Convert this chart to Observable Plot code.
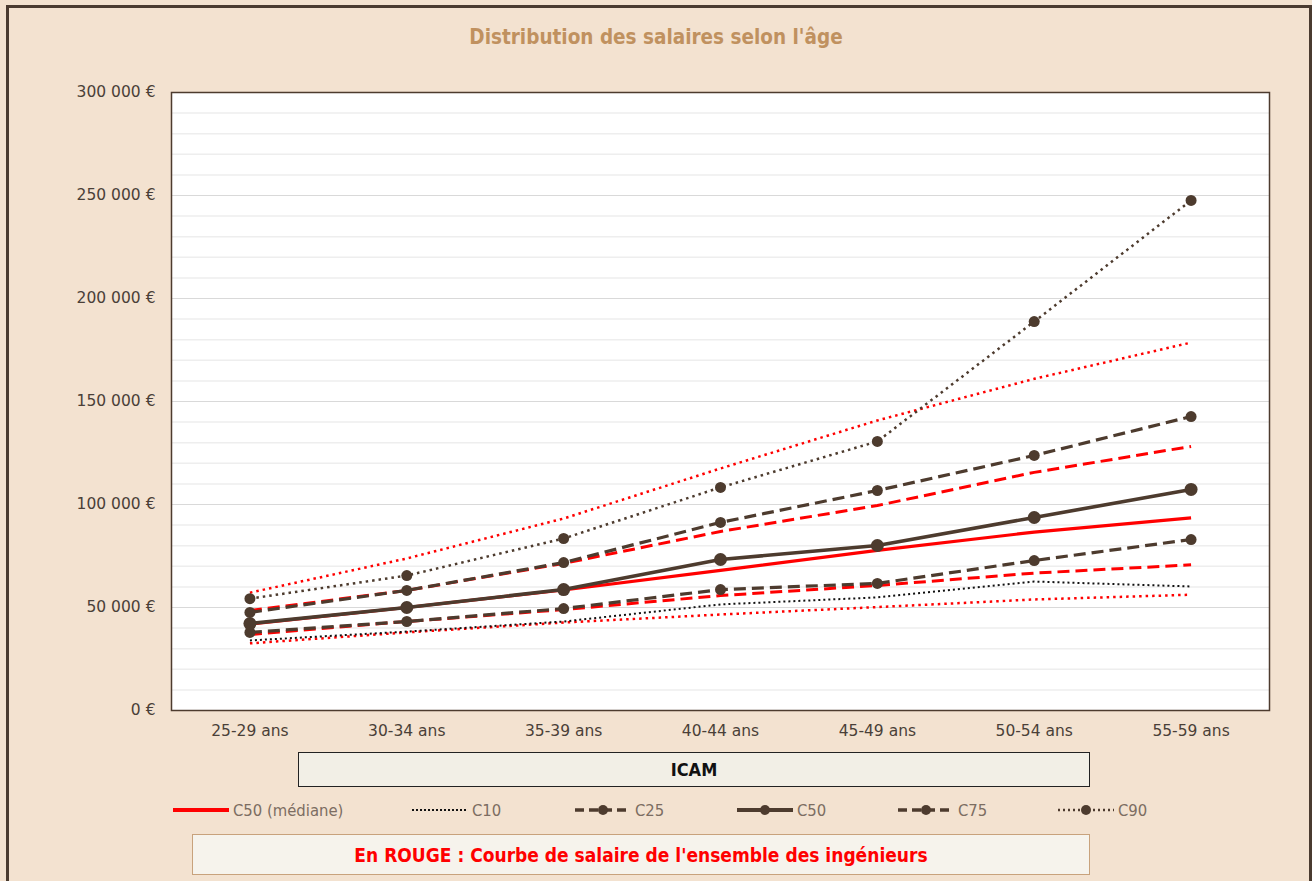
<!DOCTYPE html>
<html><head><meta charset="utf-8">
<script src="https://cdn.jsdelivr.net/npm/d3@7"></script>
<script src="https://cdn.jsdelivr.net/npm/@observablehq/plot@0.6"></script>
<style>
html,body{margin:0;padding:0;width:1312px;height:881px;overflow:hidden;background:#f3e2d0;}
#frame{position:absolute;left:6px;top:5px;width:1300px;height:900px;border:3px solid #4a3b30;background:#f3e2d0;}
#title{position:absolute;left:0;width:1312px;top:25px;text-align:center;font-family:"DejaVu Sans Condensed","Liberation Sans Narrow",sans-serif;font-weight:bold;font-size:20.5px;color:#c0915f;}
#chart{position:absolute;left:0;top:0;}
#icam{position:absolute;left:298px;top:752px;width:790px;height:33px;background:#f2efe6;border:1.5px solid #222;text-align:center;line-height:34px;font-family:"DejaVu Sans Condensed",sans-serif;font-weight:bold;font-size:18px;color:#111;}
#legend{position:absolute;left:0;top:798px;width:1312px;height:24px;font-family:"DejaVu Sans Condensed",sans-serif;font-size:16.5px;color:#7c6d62;}
.li{position:absolute;top:0;height:24px;display:flex;align-items:center;}
.li svg{margin-right:4px;}
#note{position:absolute;left:192px;top:834px;width:896px;height:39px;background:#f6f3ec;border:1.5px solid #c8a27c;text-align:center;line-height:41px;font-family:"DejaVu Sans Condensed",sans-serif;font-weight:bold;font-size:19px;color:#ff0000;}
</style></head>
<body>
<div id="frame"></div>
<div id="chart"></div>
<div id="title">Distribution des salaires selon l'âge</div>
<div id="icam">ICAM</div>
<div id="legend"></div>
<div id="note">En ROUGE : Courbe de salaire de l'ensemble des ingénieurs</div>
<script>
const ages = ["25-29 ans","30-34 ans","35-39 ans","40-44 ans","45-49 ans","50-54 ans","55-59 ans"];
// ICAM (brown / black)
const icamC10 = [34000, 38300, 43200, 51500, 54900, 62600, 60200];
const icamC25 = [37900, 43200, 49500, 58700, 61700, 72800, 83000];
const icamC50 = [42200, 50000, 58700, 73300, 80100, 93700, 107300];
const icamC75 = [47600, 58300, 71800, 91300, 106800, 123800, 142700];
const icamC90 = [54300, 65500, 83500, 108300, 130600, 188800, 247600];
// Ensemble des ingénieurs (red)
const allC10 = [32600, 37900, 42700, 46600, 50200, 53900, 56200];
const allC25 = [36900, 43200, 49000, 55800, 60700, 66700, 70700];
const allC50 = [42000, 50000, 58500, 68000, 77700, 86600, 93500];
const allC75 = [48500, 58300, 71400, 86900, 99500, 115600, 128200];
const allC90 = [57200, 73800, 93200, 117500, 140800, 161000, 178600];
const yTicks = [0, 50000, 100000, 150000, 200000, 250000, 300000];

const tidy = arr => arr.map((v,i)=>({age:ages[i], v}));
const BROWN = "#4d3b2e", RED = "#ff0000";
const fmt = d => d3.format(",")(d).replace(/,/g," ") + " €";
const minor = d3.range(0, 300001, 10000).filter(d => d % 50000 !== 0);

const lineOpts = (stroke, w, dash) => ({x:"age", y:"v", stroke, strokeWidth:w, strokeDasharray:dash, strokeLinecap:"butt"});

const plot = Plot.plot({
  width: 1312, height: 750,
  marginLeft: 171, marginRight: 43, marginTop: 92, marginBottom: 40,
  style: {background:"transparent", fontFamily:"'DejaVu Sans', sans-serif", fontSize:"15.5px", color:"#4a3f38"},
  x: {type:"point", domain: ages, padding: 0.5, round: false, label: null, tickSize: 0, tickPadding: 14},
  y: {domain:[0,300000], ticks: yTicks, tickFormat: fmt, label: null, tickSize: 0, tickPadding: 16},
  marks: [
    Plot.frame({fill:"white"}),
    Plot.ruleY(minor, {stroke:"#eeeeee", strokeWidth:1.5}),
    Plot.ruleY(yTicks, {stroke:"#d9d9d9", strokeWidth:1.2}),
    // red (ensemble)
    Plot.line(tidy(allC10), lineOpts(RED, 2.5, "2.5,4")),
    Plot.line(tidy(allC25), lineOpts(RED, 3, "12,6")),
    Plot.line(tidy(allC50), lineOpts(RED, 3.2, null)),
    Plot.line(tidy(allC75), lineOpts(RED, 3, "12,6")),
    Plot.line(tidy(allC90), lineOpts(RED, 2.5, "2.5,4")),
    // ICAM
    Plot.line(tidy(icamC10), lineOpts("#111111", 2, "2,3")),
    Plot.line(tidy(icamC25), lineOpts(BROWN, 3.2, "12,6")),
    Plot.dot(tidy(icamC25), {x:"age", y:"v", r:5.5, fill:BROWN}),
    Plot.line(tidy(icamC75), lineOpts(BROWN, 3.2, "12,6")),
    Plot.dot(tidy(icamC75), {x:"age", y:"v", r:5.5, fill:BROWN}),
    Plot.line(tidy(icamC90), lineOpts(BROWN, 2.5, "2.5,4")),
    Plot.dot(tidy(icamC90), {x:"age", y:"v", r:5.5, fill:BROWN}),
    Plot.line(tidy(icamC50), lineOpts(BROWN, 3.6, null)),
    Plot.dot(tidy(icamC50), {x:"age", y:"v", r:6.5, fill:BROWN}),
    Plot.frame({stroke:"#4d3b2e", strokeWidth:1.5})
  ]
});
document.getElementById("chart").appendChild(plot);

// Legend
const legendItems = [
  {x:173, label:"C50 (médiane)", stroke:RED, w:4, dash:null, dot:false},
  {x:412, label:"C10", stroke:"#111", w:2, dash:"2,2", dot:false},
  {x:575, label:"C25", stroke:BROWN, w:3.5, dash:"9,5", dot:true},
  {x:737, label:"C50", stroke:BROWN, w:4, dash:null, dot:true},
  {x:898, label:"C75", stroke:BROWN, w:3.5, dash:"9,5", dot:true},
  {x:1058, label:"C90", stroke:BROWN, w:2.5, dash:"2,3", dot:true}
];
const leg = document.getElementById("legend");
legendItems.forEach(it=>{
  const d = document.createElement("div");
  d.className = "li"; d.style.left = it.x + "px";
  d.innerHTML = `<svg width="56" height="24"><line x1="0" x2="56" y1="12" y2="12" stroke="${it.stroke}" stroke-width="${it.w}" ${it.dash?`stroke-dasharray="${it.dash}"`:""}/>${it.dot?`<circle cx="28" cy="12" r="5" fill="${BROWN}"/>`:""}</svg><span>${it.label}</span>`;
  leg.appendChild(d);
});
</script>
</body></html>
